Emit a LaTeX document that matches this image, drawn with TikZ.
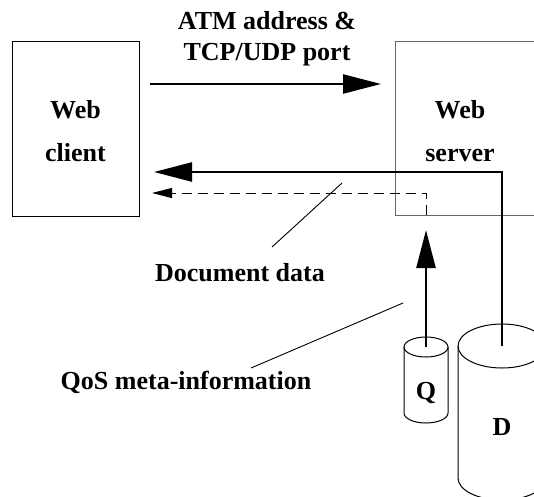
\documentclass[tikz,border=0pt]{standalone}
\usepackage{fontspec}
\setmainfont{Liberation Serif}
\usetikzlibrary{arrows.meta}
\tikzset{
  txt/.style={font=\fontsize{26}{31}\selectfont\bfseries, inner sep=0pt, align=center},
  box/.style={draw, line width=1pt, inner sep=0pt},
  flow/.style={line width=2.4pt, -{Triangle[length=38pt, width=19pt]}},
  meta/.style={line width=1pt, dash pattern=on 10pt off 6pt, -{Triangle[length=20pt, width=10pt]}},
  leader/.style={line width=0.9pt},
  drum/.style={line width=1pt}
}
\begin{document}
\begin{tikzpicture}[x=1pt, y=-1pt]
\useasboundingbox (0,0) rectangle (534,496);
\clip (0,0) rectangle (534,496);

% client and server boxes
\node[box, minimum width=127pt, minimum height=175pt, anchor=north west] (client) at (12,41) {};
\node[txt] (clienttext) at (75.5,131) {Web\\[12pt]client};
\node[box, draw=black!60, minimum width=170pt, minimum height=174pt, anchor=north west] (server) at (395,41) {};
\node[txt] (servertext) at (460,131) {Web\\[12pt]server};

% request label and arrow
\node[txt] (request) at (267,39) {ATM address \&\\TCP/UDP port};
\coordinate (reqfrom) at (150,84);
\coordinate (reqto) at (381,84);
\draw[flow] (reqfrom) -- (reqto);

% storage drums
\coordinate (qtop) at (426,347);
\coordinate (dtop) at (502,346);
\draw[drum] (404,347) -- (404,413) arc[start angle=180, end angle=0, x radius=22, y radius=10] -- (448,347);
\draw[drum] (qtop) ellipse [x radius=22, y radius=10];
\node[txt] (qlabel) at (426,393) {Q};
\draw[drum] (458,346) -- (458,478) arc[start angle=180, end angle=0, x radius=44, y radius=22] -- (546,346);
\draw[drum] (dtop) ellipse [x radius=44, y radius=22];
\node[txt] (dlabel) at (502,427) {D};

% document data path
\coordinate (datato) at (154,172);
\draw[flow, line cap=butt] (dtop) |- (datato);

% QoS meta-information path
\coordinate (qin) at (426,230);
\draw[flow] (qtop) -- (qin);
\coordinate (metafrom) at (426,215);
\coordinate (metato) at (152,193);
\draw[meta] (metafrom) |- (metato);

% leader lines and their labels
\node[txt] (doclabel) at (240,273) {Document data};
\coordinate (docpt) at (342,183);
\coordinate (docend) at (272,247);
\draw[leader] (docpt) -- (docend);
\node[txt] (qoslabel) at (186,382) {QoS meta-information};
\coordinate (qospt) at (403,303);
\coordinate (qosend) at (251,368);
\draw[leader] (qospt) -- (qosend);
\end{tikzpicture}
\end{document}
